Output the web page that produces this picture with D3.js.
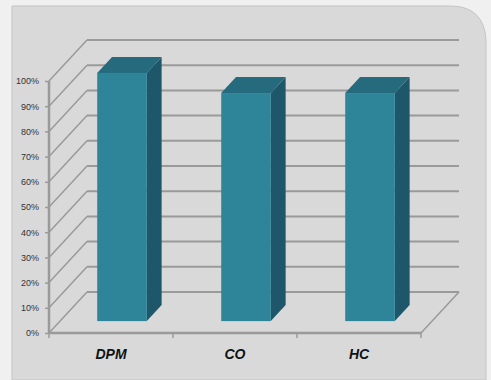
<!DOCTYPE html>
<html>
<head>
<meta charset="utf-8">
<script src="https://cdnjs.cloudflare.com/ajax/libs/d3/7.8.5/d3.min.js"></script>
<style>
  html, body { margin: 0; padding: 0; background: #f2f2f2; }
  svg { display: block; }
</style>
</head>
<body>
<div id="chart"></div>
<script>
// Chart data
var categories = ["DPM", "CO", "HC"];
var values = [0.985, 0.905, 0.905];
var tickValues = [0, 0.1, 0.2, 0.3, 0.4, 0.5, 0.6, 0.7, 0.8, 0.9, 1.0];

// Set up chart dimensions
var width = 491;
var height = 380;
var plot = { left: 49, right: 421, bottom: 333, top: 81 };
var depth = { dx: 38, dy: -41 };   // 3D wall offset
var barDepth = [0.29, 0.68];       // bar front/back as fraction of depth
var barRatio = 0.4;                // bar width relative to band

var svg = d3.select("#chart")
  .append("svg")
  .attr("width", width)
  .attr("height", height);

// Background and panel
svg.append("rect")
  .attr("width", width)
  .attr("height", height)
  .attr("fill", "#f0f0f0");

svg.append("path")
  .attr("d", "M12,6 L450,6 Q484,6 486,40 L486,380 L12,380 Z")
  .attr("fill", "#d9d9d9")
  .attr("stroke", "#c4c4c4")
  .attr("stroke-width", 1);

// Scales
var xScale = d3.scaleBand()
  .domain(categories)
  .range([plot.left, plot.right])
  .padding(0);

var yScale = d3.scaleLinear()
  .domain([0, 1])
  .range([plot.bottom, plot.top]);

var gridColor = "#9a9a9a";

// Back wall gridlines and side wall diagonals
var grid = svg.append("g");
tickValues.forEach(function (v) {
  var y = yScale(v);
  grid.append("line")
    .attr("x1", plot.left + depth.dx)
    .attr("x2", plot.right + depth.dx)
    .attr("y1", y + depth.dy)
    .attr("y2", y + depth.dy)
    .attr("stroke", gridColor)
    .attr("stroke-width", 2);
  grid.append("line")
    .attr("x1", plot.left)
    .attr("y1", y)
    .attr("x2", plot.left + depth.dx)
    .attr("y2", y + depth.dy)
    .attr("stroke", gridColor)
    .attr("stroke-width", 1.5);
});

// Floor right edge
grid.append("line")
  .attr("x1", plot.right)
  .attr("y1", plot.bottom)
  .attr("x2", plot.right + depth.dx)
  .attr("y2", plot.bottom + depth.dy)
  .attr("stroke", gridColor)
  .attr("stroke-width", 1.5);

// Bars (front, side, top faces)
var bars = svg.selectAll(".bar")
  .data(categories)
  .enter().append("g")
  .attr("class", "bar");

function barGeom(d, i) {
  var w = xScale.bandwidth() * barRatio;
  var cx = xScale(d) + xScale.bandwidth() / 2;
  var fx = depth.dx * barDepth[0], fy = depth.dy * barDepth[0];
  var bx = depth.dx * barDepth[1], by = depth.dy * barDepth[1];
  return {
    x0: cx - w / 2 + fx, x1: cx + w / 2 + fx,
    y0: yScale(0) + fy, y1: yScale(values[i]) + fy,
    ox: bx - fx, oy: by - fy
  };
}

bars.append("path")
  .attr("fill", "#1e5769")
  .attr("d", function (d, i) {
    var g = barGeom(d, i);
    return "M" + g.x1 + "," + g.y0 + "L" + (g.x1 + g.ox) + "," + (g.y0 + g.oy) +
      "L" + (g.x1 + g.ox) + "," + (g.y1 + g.oy) + "L" + g.x1 + "," + g.y1 + "Z";
  });

bars.append("path")
  .attr("fill", "#256b7d")
  .attr("d", function (d, i) {
    var g = barGeom(d, i);
    return "M" + g.x0 + "," + g.y1 + "L" + g.x1 + "," + g.y1 +
      "L" + (g.x1 + g.ox) + "," + (g.y1 + g.oy) + "L" + (g.x0 + g.ox) + "," + (g.y1 + g.oy) + "Z";
  });

bars.append("rect")
  .attr("fill", "#2e8499")
  .attr("x", function (d, i) { return barGeom(d, i).x0; })
  .attr("y", function (d, i) { return barGeom(d, i).y1; })
  .attr("width", function (d, i) { var g = barGeom(d, i); return g.x1 - g.x0; })
  .attr("height", function (d, i) { var g = barGeom(d, i); return g.y0 - g.y1; });

// Front floor edge and vertical axis
svg.append("line")
  .attr("x1", plot.left)
  .attr("x2", plot.right)
  .attr("y1", plot.bottom)
  .attr("y2", plot.bottom)
  .attr("stroke", gridColor)
  .attr("stroke-width", 2.5);

svg.append("line")
  .attr("x1", plot.left)
  .attr("x2", plot.left)
  .attr("y1", yScale(1))
  .attr("y2", plot.bottom)
  .attr("stroke", gridColor)
  .attr("stroke-width", 2.5);

// Y axis
var yAxis = svg.append("g")
  .attr("transform", "translate(" + plot.left + ",0)")
  .call(d3.axisLeft(yScale)
    .tickValues(tickValues)
    .tickSize(4)
    .tickPadding(6)
    .tickFormat(d3.format(".0%")));
yAxis.select(".domain").remove();
yAxis.selectAll(".tick line").attr("stroke", gridColor).attr("stroke-width", 1.5);
yAxis.selectAll("text")
  .style("font-family", "'Liberation Sans', Arial, sans-serif")
  .style("font-size", "9px")
  .style("fill", "#333");

// X axis
var xAxis = svg.append("g")
  .attr("transform", "translate(0," + plot.bottom + ")")
  .call(d3.axisBottom(xScale).tickSize(0).tickPadding(16));
xAxis.select(".domain").remove();
xAxis.selectAll("text")
  .style("font-family", "'Liberation Sans', Arial, sans-serif")
  .style("font-size", "14px")
  .style("font-weight", "bold")
  .style("font-style", "italic")
  .style("fill", "#111");

// Category separators
var bounds = [plot.left].concat(categories.map(function (d) { return xScale(d) + xScale.bandwidth(); }));
svg.selectAll(".xtick")
  .data(bounds)
  .enter().append("line")
  .attr("x1", function (d) { return d; })
  .attr("x2", function (d) { return d; })
  .attr("y1", plot.bottom)
  .attr("y2", plot.bottom + 5)
  .attr("stroke", gridColor)
  .attr("stroke-width", 1.5);
</script>
</body>
</html>
